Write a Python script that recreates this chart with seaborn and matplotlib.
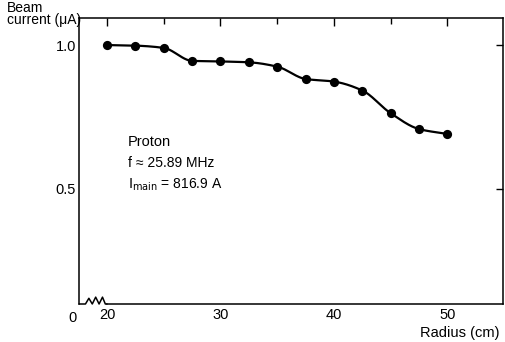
import numpy as np
import seaborn as sns
import matplotlib
matplotlib.use("Agg")
import matplotlib.pyplot as plt
import matplotlib.transforms as mtransforms

sns.set_style("white")
plt.rcParams['font.family'] = ['Liberation Sans Narrow', 'Liberation Sans', 'DejaVu Sans']
plt.rcParams['mathtext.fontset'] = 'custom'
plt.rcParams['mathtext.rm'] = 'Liberation Sans Narrow'
plt.rcParams['text.color'] = 'black'
plt.rcParams['xtick.color'] = 'black'
plt.rcParams['ytick.color'] = 'black'

# measured beam current vs radius
radius = [20, 22.5, 25, 27.5, 30, 32.5, 35, 37.5, 40, 42.5, 45, 47.5, 50]
current = [1.0, 0.998, 0.99, 0.945, 0.943, 0.94, 0.925, 0.882, 0.873, 0.842, 0.763, 0.708, 0.691]
xtick_vals = [20, 30, 40, 50]
ytick_vals = [0.5, 1.0]


def pchip(x, y, xs):
    # monotone cubic through the measured points, for the drawn curve
    x = np.asarray(x, float)
    y = np.asarray(y, float)
    h = np.diff(x)
    d = np.diff(y) / h
    m = np.zeros_like(y)
    m[0], m[-1] = d[0], d[-1]
    for k in range(1, len(x) - 1):
        if d[k - 1] * d[k] > 0:
            w1 = 2 * h[k] + h[k - 1]
            w2 = h[k] + 2 * h[k - 1]
            m[k] = (w1 + w2) / (w1 / d[k - 1] + w2 / d[k])
    idx = np.clip(np.searchsorted(x, xs) - 1, 0, len(x) - 2)
    t = (xs - x[idx]) / h[idx]
    h00 = 2 * t**3 - 3 * t**2 + 1
    h10 = t**3 - 2 * t**2 + t
    h01 = -2 * t**3 + 3 * t**2
    h11 = t**3 - t**2
    return h00 * y[idx] + h10 * h[idx] * m[idx] + h01 * y[idx + 1] + h11 * h[idx] * m[idx + 1]


xs = np.linspace(radius[0], radius[-1], 300)
ys = pchip(radius, current, xs)

fig = plt.figure(figsize=(5.05, 3.42), dpi=100)
ax = fig.add_axes([79 / 505, 38 / 342, 424 / 505, 286 / 342])

sns.lineplot(x=xs, y=ys, sort=False, color='black', lw=1.6, ax=ax)
sns.scatterplot(x=radius, y=current, color='black', s=44, edgecolor='black', linewidth=0, ax=ax, zorder=3)

xmin, xmax = 17.53, 54.9
ax.set_xlim(xmin, xmax)
ax.set_ylim(0.10, 1.094)

ax.set_xticks(xtick_vals)
ax.set_xticklabels([str(v) for v in xtick_vals])
ax.set_xticks([25, 35, 45], minor=True)
ax.set_yticks(ytick_vals)
ax.set_yticklabels(['0.5', '1.0'])
ax.tick_params(axis='x', which='major', direction='in', length=6, width=1, top=True, pad=3, labelsize=10.5)
ax.tick_params(axis='x', which='minor', direction='in', length=4, width=1, top=True)
ax.tick_params(axis='y', which='major', direction='in', length=5, width=1, right=True, pad=2, labelsize=10.5)
ax.set_xlabel('')
ax.set_ylabel('')

for s in ax.spines.values():
    s.set_color('black')
    s.set_linewidth(1.1)
ax.spines['bottom'].set_bounds(20, xmax)

# axis break wiggle between 0 and 20
trans = mtransforms.blended_transform_factory(ax.transData, ax.transAxes)
bx = [xmin, 18.1, 18.4, 18.7, 19.0, 19.3, 19.6, 19.85, 20.0]
by = [0.0, 0.0, 0.02, 0.0, 0.024, 0.0, 0.024, 0.0, 0.0]
ax.plot(bx, by, color='black', lw=1.1, transform=trans, clip_on=False, solid_joinstyle='round')

ax.text(17.0, -0.025, '0', transform=trans, ha='center', va='top', fontsize=10.5)

fig.text(7 / 505, 1 - 1 / 342, 'Beam\ncurrent (μA)', ha='left', va='top', fontsize=10, linespacing=0.85)
fig.text(460 / 505, 1 - 333 / 342, 'Radius (cm)', ha='center', va='center', fontsize=10.5)

ax.text(21.85, 0.6625, 'Proton', ha='left', va='center', fontsize=10.5)
ax.text(21.85, 0.59, 'f ≈ 25.89 MHz', ha='left', va='center', fontsize=10)
ax.text(21.85, 0.515, r'$\mathrm{I}_{\mathrm{main}}$ = 816.9 A', ha='left', va='center', fontsize=10)

fig.savefig('out.png', dpi=100)
